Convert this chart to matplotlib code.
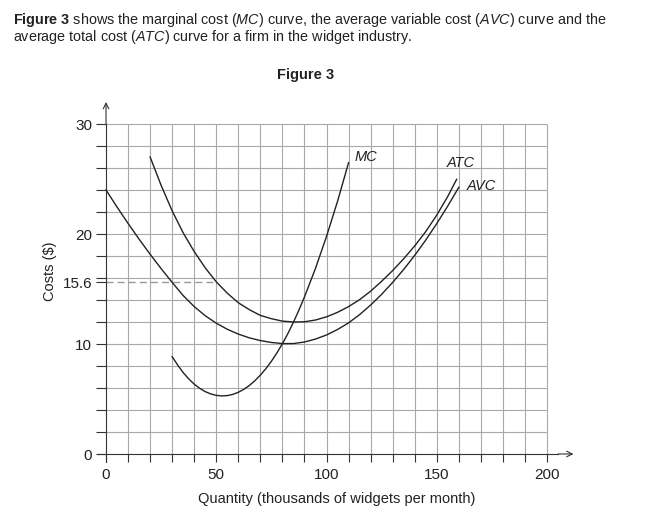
import matplotlib
matplotlib.use("Agg")
import matplotlib.pyplot as plt

plt.rcParams['font.family'] = ['Liberation Sans', 'DejaVu Sans']
plt.rcParams['mathtext.fontset'] = 'custom'
plt.rcParams['mathtext.rm'] = 'Liberation Sans'
plt.rcParams['mathtext.it'] = 'Liberation Sans:italic'
plt.rcParams['mathtext.bf'] = 'Liberation Sans:bold'

# readings (quantity in thousands, cost in $)
avcQ = [0, 5, 10, 15, 20, 25, 30, 35, 40, 45, 50, 55, 60, 65, 70, 75, 80, 85,
        90, 95, 100, 105, 110, 115, 120, 125, 130, 135, 140, 145, 150, 155, 160]
avcCost = [24.0, 22.45, 20.96, 19.53, 18.16, 16.85, 15.6, 14.4, 13.4, 12.57, 11.89, 11.34,
           10.9, 10.56, 10.31, 10.14, 10.04, 10.04, 10.18, 10.45, 10.82, 11.32, 11.92, 12.67,
           13.54, 14.52, 15.6, 16.78, 18.06, 19.45, 20.95, 22.55, 24.25]

atcQ = [20, 25, 30, 35, 40, 45, 50, 55, 60, 65, 70, 75, 80, 85, 90, 95, 100,
        105, 110, 115, 120, 125, 130, 135, 140, 145, 150, 155, 159]
atcCost = [27.0, 24.42, 22.1, 20.1, 18.4, 16.92, 15.65, 14.62, 13.75, 13.12, 12.6, 12.3,
           12.08, 12.0, 12.02, 12.18, 12.47, 12.88, 13.4, 14.03, 14.8, 15.7, 16.68, 17.75,
           18.92, 20.22, 21.72, 23.42, 24.97]

mcQ = [30, 32.5, 35, 37.5, 40, 42.5, 45, 47.5, 50, 52.5, 55, 57.5, 60, 62.5, 65, 67.5,
       70, 72.5, 75, 77.5, 80, 82.5, 85, 87.5, 90, 95, 100, 105, 110]
mcCost = [8.85, 8.08, 7.4, 6.83, 6.35, 5.97, 5.67, 5.46, 5.33, 5.28, 5.31, 5.42, 5.61,
          5.88, 6.23, 6.66, 7.17, 7.76, 8.43, 9.19, 10.03, 10.96, 11.98, 13.09, 14.28,
          16.88, 19.78, 22.98, 26.48]

xTicks = [0, 50, 100, 150, 200]
yTicks = [0, 10, 15.6, 20, 30]
yTickLabels = ['0', '10', '15.6', '20', '30']
dashLevel = 15.6
dashEnd = 50

inkColor = '#222222'
axisColor = '#333333'


def drawFigure():
    fig = plt.figure(figsize=(6.65, 5.19), dpi=100)
    fig.text(13 / 665, 1 - 20 / 519,
             r"$\mathbf{Figure\ 3}$ shows the marginal cost ($\mathit{MC}$) curve, the average variable cost ($\mathit{AVC}$) curve and the",
             fontsize=10.4, va='center', ha='left', color=inkColor)
    fig.text(13 / 665, 1 - 37 / 519,
             r"average total cost ($\mathit{ATC}$) curve for a firm in the widget industry.",
             fontsize=10.4, va='center', ha='left', color=inkColor)
    fig.text(306 / 665, 1 - 75 / 519, "Figure 3", fontsize=10.5, fontweight='bold',
             ha='center', va='center', color=inkColor)

    ax = fig.add_axes([98.3 / 665, 1 - 461.7 / 519, (573.5 - 98.3) / 665, (461.7 - 102) / 519])
    ax.set_xlim(-3.5, 212)
    ax.set_ylim(-0.7, 32)
    ax.spines['top'].set_visible(False)
    ax.spines['right'].set_visible(False)
    ax.spines['left'].set_position(('data', 0))
    ax.spines['bottom'].set_position(('data', 0))
    ax.spines['left'].set_bounds(-0.7, 30)
    ax.spines['bottom'].set_bounds(-3.5, 205)
    for side in ['left', 'bottom']:
        ax.spines[side].set_color(axisColor)
        ax.spines[side].set_linewidth(0.8)

    # grid
    ax.vlines(range(10, 201, 10), 0, 30, color='#a8a8a8', lw=0.8, zorder=1)
    ax.hlines(range(2, 31, 2), 0, 200, color='#a8a8a8', lw=0.8, zorder=1)

    # arrow heads on the axes
    ax.annotate('', xy=(0, 32), xytext=(0, 30),
                arrowprops=dict(arrowstyle='->', lw=0.8, color=axisColor, shrinkA=0, shrinkB=0))
    ax.annotate('', xy=(212, 0), xytext=(205, 0),
                arrowprops=dict(arrowstyle='->', lw=0.8, color=axisColor, shrinkA=0, shrinkB=0))

    ax.plot([0, dashEnd], [dashLevel, dashLevel], color='#999999', lw=1.0, ls=(0, (5, 3)), zorder=2)

    ax.plot(avcQ, avcCost, color=inkColor, lw=1.0, zorder=3)
    ax.plot(atcQ, atcCost, color=inkColor, lw=1.0, zorder=3)
    ax.plot(mcQ, mcCost, color=inkColor, lw=1.0, zorder=3)

    ax.text(112.5, 27.0, 'MC', style='italic', fontsize=10.5, va='center', color=inkColor)
    ax.text(154.5, 26.5, 'ATC', style='italic', fontsize=10.5, va='center', color=inkColor)
    ax.text(163.5, 24.4, 'AVC', style='italic', fontsize=10.5, va='center', color=inkColor)

    ax.set_xticks(xTicks)
    ax.set_xticks(range(0, 201, 10), minor=True)
    ax.set_yticks(yTicks)
    ax.set_yticks(range(0, 31, 2), minor=True)
    ax.set_yticklabels(yTickLabels)
    ax.tick_params(which='both', direction='out', color=axisColor, width=0.8, labelsize=11,
                   labelcolor=inkColor)
    ax.tick_params(axis='y', which='both', length=7, pad=3)
    ax.tick_params(axis='x', which='both', length=6, pad=4)

    ax.set_xlabel('Quantity (thousands of widgets per month)', fontsize=10.5, color=inkColor)
    ax.set_ylabel('Costs ($)', fontsize=10.5, color=inkColor)
    ax.xaxis.set_label_coords((337 - 98.3) / 475.2, (461.7 - 499) / 359.7)
    ax.yaxis.set_label_coords((50 - 98.3) / 475.2, (461.7 - 271) / 359.7)
    ax.xaxis.label.set_va('center')
    ax.yaxis.label.set_va('center')

    fig.savefig('out.png', dpi=100)


def main():
    drawFigure()


if __name__ == "__main__":
    main()
